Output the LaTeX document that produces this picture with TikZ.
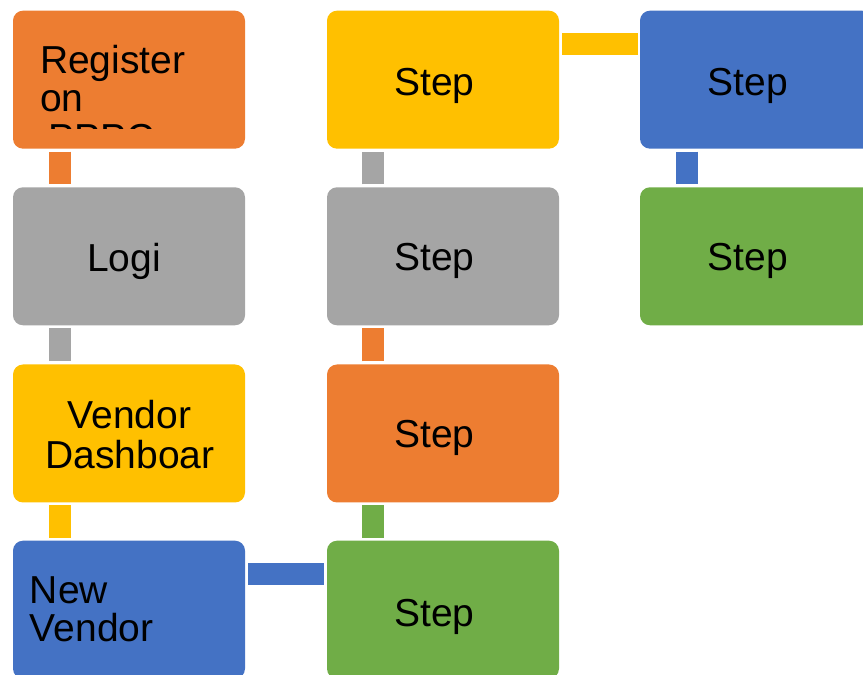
\documentclass[tikz,border=0pt]{standalone}
\usepackage{fontspec}
\setmainfont{Liberation Sans}
\definecolor{cOrange}{HTML}{ED7D31}
\definecolor{cGray}{HTML}{A5A5A5}
\definecolor{cGold}{HTML}{FFC000}
\definecolor{cBlue}{HTML}{4472C4}
\definecolor{cGreen}{HTML}{70AD47}
\tikzset{
 box/.style={rectangle, rounded corners=10pt, minimum width=232pt, minimum height=138pt, inner sep=0pt, outer sep=0pt, fill=#1},
 bar/.style={line width=22pt, draw=#1},
 lbl/.style={inner sep=0pt, outer sep=0pt, font=\fontsize{39}{39}\selectfont},
}
\begin{document}
\begin{tikzpicture}[x=1pt,y=1pt]
\useasboundingbox (0,0) rectangle (863,675);
\clip (0,0) rectangle (863,675);
% boxes
\node[box=cOrange] (a1) at (129,595.3) {};
\node[box=cGray]   (a2) at (129,418.7) {};
\node[box=cGold]   (a3) at (129,241.5) {};
\node[box=cBlue]   (a4) at (129,65.3) {};
\node[box=cGold]   (b1) at (443,595.3) {};
\node[box=cGray]   (b2) at (443,418.7) {};
\node[box=cOrange] (b3) at (443,241.5) {};
\node[box=cGreen]  (b4) at (443,65.3) {};
\node[box=cBlue]   (c1) at (756,595.3) {};
\node[box=cGreen]  (c2) at (756,418.7) {};
% connectors
\draw[bar=cOrange] ([shift={(46.7pt,-3pt)}]a1.south west) -- ([shift={(46.7pt,3pt)}]a2.north west);
\draw[bar=cGray]   ([shift={(46.7pt,-3pt)}]a2.south west) -- ([shift={(46.7pt,3pt)}]a3.north west);
\draw[bar=cGold]   ([shift={(46.7pt,-3pt)}]a3.south west) -- ([shift={(46.7pt,3pt)}]a4.north west);
\draw[bar=cBlue]   ([shift={(3pt,-33.5pt)}]a4.north east) -- ([shift={(-3pt,-33.5pt)}]b4.north west);
\draw[bar=cGreen]  ([shift={(46pt,3pt)}]b4.north west) -- ([shift={(46pt,-3pt)}]b3.south west);
\draw[bar=cOrange] ([shift={(46pt,3pt)}]b3.north west) -- ([shift={(46pt,-3pt)}]b2.south west);
\draw[bar=cGray]   ([shift={(46pt,3pt)}]b2.north west) -- ([shift={(46pt,-3pt)}]b1.south west);
\draw[bar=cGold]   ([shift={(3pt,-33pt)}]b1.north east) -- ([shift={(-2.5pt,-33pt)}]c1.north west);
\draw[bar=cBlue]   ([shift={(46.5pt,-3pt)}]c1.south west) -- ([shift={(46.5pt,3pt)}]c2.north west);
% labels
\node[lbl, anchor=base west] (t1a) at (40,601.5) {Register};
\node[lbl, anchor=base west] (t1b) at (40,563.7) {on};
\begin{scope}
\clip (0,546.7) rectangle (863,675);
\node[lbl, anchor=base west] (t1c) at (48,523) {PPPC};
\end{scope}
\node[lbl, anchor=base] (t2) at (124,403.3) {Logi};
\node[lbl, anchor=base] (t3a) at (129.5,246.7) {Vendor};
\node[lbl, anchor=base] (t3b) at (130,206.7) {Dashboar};
\node[lbl, anchor=base west] (t4a) at (30,71.2) {New};
\node[lbl, anchor=base west] (t4b) at (30,33.5) {Vendor};
\node[lbl, anchor=base] (s1) at (434.5,579.8) {Step};
\node[lbl, anchor=base] (s2) at (434.5,404.2) {Step};
\node[lbl, anchor=base] (s3) at (434.5,227.5) {Step};
\node[lbl, anchor=base] (s4) at (434.5,48.2) {Step};
\node[lbl, anchor=base] (s5) at (748,579.8) {Step};
\node[lbl, anchor=base] (s6) at (748,404.2) {Step};
\end{tikzpicture}
\end{document}
